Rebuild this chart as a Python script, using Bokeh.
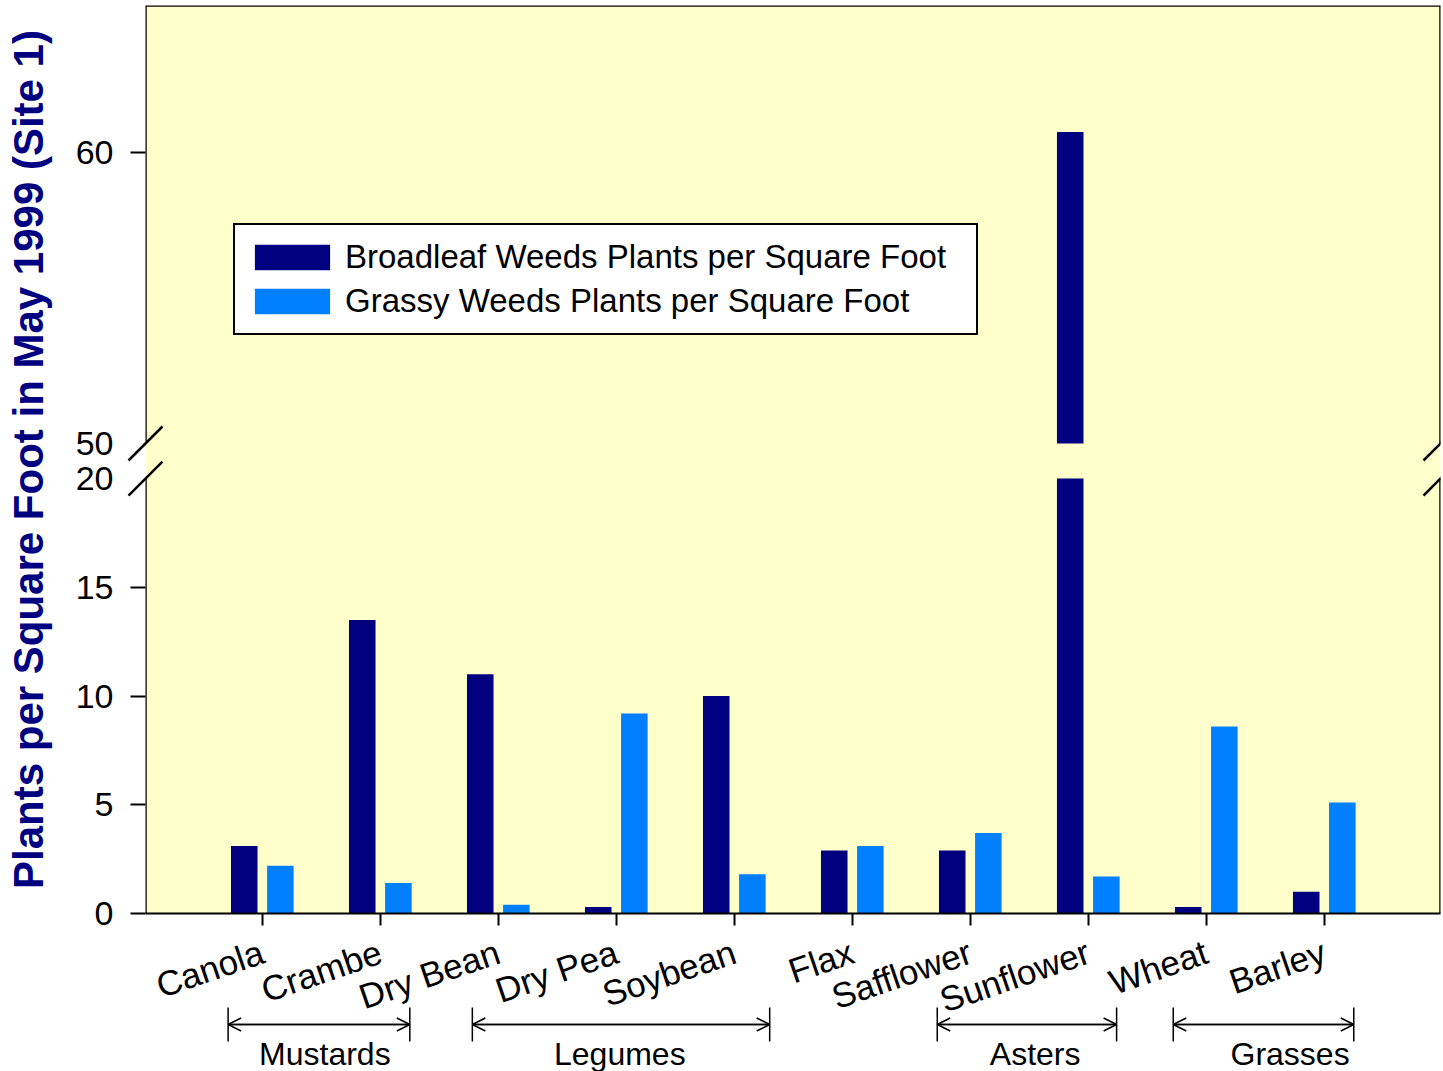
from bokeh.plotting import figure
from bokeh.layouts import column
from bokeh.models import (Range1d, FixedTicker, Legend, LegendItem, Arrow, OpenHead,
                          TeeHead, Label, ColumnDataSource)
from bokeh.transform import dodge
from bokeh.embed import file_html
from bokeh.resources import INLINE

# ---------------- data ----------------
crops = ["Canola", "Crambe", "Dry Bean", "Dry Pea", "Soybean", "Flax",
         "Safflower", "Sunflower", "Wheat", "Barley"]
broadleaf = [3.1, 13.5, 11.0, 0.3, 10.0, 2.9, 2.9, 60.7, 0.3, 1.0]
grassy = [2.2, 1.4, 0.4, 9.2, 1.8, 3.1, 3.7, 1.7, 8.6, 5.1]
lower_ticks = [0, 5, 10, 15, 20]
upper_ticks = [50, 60]
groups = ["Mustards", "Legumes", "Asters", "Grasses"]
# group spans in category-index units
group_start = [-0.29, 1.78, 5.72, 7.72]
group_end = [1.25, 4.30, 7.24, 9.25]
group_label_x = [0.53, 3.03, 6.55, 8.71]

BREAK_LOW = 20
BREAK_HIGH = 50

# ---------------- geometry ----------------
FRAME_W, FRAME_H = 1295, 908
LEFT, RIGHT, TOP = 145, 3, 5
CANVAS_W, CANVAS_H = 1443, 1071
LO = (0.0, 41.75)       # lower segment units over full frame height
HI = (33.85, 65.05)     # upper segment units over full frame height
XR = (-0.99, 9.985)
PXX = FRAME_W / (XR[1] - XR[0])
PXY = FRAME_H / (LO[1] - LO[0])
BOTTOM_ROW = TOP + FRAME_H

def hi_to_lo(u):
    return LO[0] + (u - HI[0]) / (HI[1] - HI[0]) * (LO[1] - LO[0])

FONT = "Liberation Sans"
NAVY = "#000080"
BLUE = "#0080FF"
BG = "#FFFFCC"

xr = Range1d(*XR)
p = figure(frame_width=FRAME_W, frame_height=FRAME_H,
           min_border_left=LEFT, min_border_right=RIGHT, min_border_top=TOP,
           min_border_bottom=0,
           x_range=xr, y_range=Range1d(*LO),
           output_backend="svg", toolbar_location=None, tools="")
p.extra_y_ranges = {"upper": Range1d(*HI)}
p.background_fill_color = BG
p.border_fill_color = "white"
p.outline_line_color = None
p.grid.visible = False

# ---------------- bars ----------------
src = ColumnDataSource(dict(
    idx=list(range(len(crops))),
    broad_low=[min(v, BREAK_LOW) for v in broadleaf],
    grassy=grassy,
))
up_idx = [i for i, v in enumerate(broadleaf) if v > BREAK_HIGH]
src_up = ColumnDataSource(dict(
    idx=up_idx,
    top=[broadleaf[i] for i in up_idx],
    bottom=[BREAK_HIGH] * len(up_idx),
))
W = 0.225
OFF = 0.153
r_b = p.vbar(x=dodge("idx", -OFF, range=xr), top="broad_low", bottom=0,
             width=W, source=src, fill_color=NAVY, line_color=None)
p.vbar(x=dodge("idx", -OFF, range=xr), top="top", bottom="bottom",
       width=W, source=src_up, fill_color=NAVY, line_color=None,
       y_range_name="upper")
r_g = p.vbar(x=dodge("idx", OFF, range=xr), top="grassy", bottom=0,
             width=W, source=src, fill_color=BLUE, line_color=None)

# ---------------- axes ----------------
xa = p.xaxis[0]
xa.ticker = FixedTicker(ticks=list(range(len(crops))))
xa.major_label_overrides = {i: c for i, c in enumerate(crops)}
xa.major_label_orientation = 0.33
xa.major_label_text_font = FONT
xa.major_label_text_font_size = "35px"
xa.major_label_text_color = "black"
xa.major_label_standoff = 25
xa.axis_line_width = 2
xa.axis_line_color = "black"
xa.major_tick_line_width = 2
xa.major_tick_line_color = "black"
xa.major_tick_out = 12
xa.major_tick_in = 0
xa.minor_tick_line_color = None

ya = p.yaxis[0]
t50 = hi_to_lo(upper_ticks[0])
t60 = hi_to_lo(upper_ticks[1])
# labels at every tick; tick marks everywhere except at the two break values
ya.ticker = FixedTicker(ticks=lower_ticks + [t50, t60],
                        minor_ticks=[t for t in lower_ticks if t != BREAK_LOW] + [t60])
ya.major_label_overrides = {t50: str(upper_ticks[0]), t60: str(upper_ticks[1])}
ya.major_label_text_font = FONT
ya.major_label_text_font_size = "34px"
ya.major_label_text_color = "black"
ya.major_label_standoff = 17
ya.axis_line_color = None
ya.major_tick_line_color = None
ya.major_tick_out = 0
ya.major_tick_in = 0
ya.minor_tick_line_color = "black"
ya.minor_tick_line_width = 2
ya.minor_tick_out = 15
ya.minor_tick_in = 0
ya.axis_label = "Plants per Square Foot in May 1999 (Site 1)"
ya.axis_label_text_font = FONT
ya.axis_label_text_font_style = "bold"
ya.axis_label_text_font_size = "42px"
ya.axis_label_text_color = NAVY
ya.axis_label_standoff = 21

# ---------------- frame border with break ----------------
def seg(x0, y0, x1, y1, rng="default", w=2.5):
    p.add_layout(Arrow(end=None, x_start=x0, y_start=y0, x_end=x1, y_end=y1,
                       line_color="black", line_width=w, y_range_name=rng))

for xe in XR:
    seg(xe, LO[0], xe, BREAK_LOW)
    seg(xe, BREAK_HIGH, xe, HI[1], "upper")
seg(XR[0], HI[1], XR[1], HI[1], "upper")

dx = 17 / PXX
dy = 17 / PXY
# right-edge break slashes (inside the main frame)
for yb in (BREAK_LOW, hi_to_lo(BREAK_HIGH)):
    seg(XR[1] - dx, yb - dy, XR[1] + dx, yb + dy)

# ---------------- legend ----------------
legend = Legend(items=[
    LegendItem(label="Broadleaf Weeds Plants per Square Foot", renderers=[r_b]),
    LegendItem(label="Grassy Weeds Plants per Square Foot", renderers=[r_g]),
], location=(88, 578))
legend.label_text_font = FONT
legend.label_text_font_size = "33px"
legend.label_text_color = "black"
legend.glyph_width = 94
legend.glyph_height = 32
legend.label_height = 44
legend.label_width = 621
legend.label_standoff = 6
legend.padding = 10
legend.spacing = 0
legend.margin = 0
legend.border_line_color = "black"
legend.border_line_alpha = 1
legend.border_line_width = 2
legend.background_fill_color = "white"
legend.background_fill_alpha = 1
p.add_layout(legend)

# ---------------- group brackets (strip below the axis labels) ----------------
Q_TOP = 1000
q = figure(frame_width=FRAME_W, frame_height=CANVAS_H - Q_TOP,
           min_border_left=LEFT, min_border_right=RIGHT, min_border_top=0,
           min_border_bottom=0, x_axis_location=None, y_axis_location=None,
           x_range=xr, y_range=Range1d(CANVAS_H, Q_TOP),
           output_backend="svg", toolbar_location=None, tools="")
q.grid.visible = False
q.outline_line_color = None
q.background_fill_alpha = 0
q.border_fill_alpha = 0
q.margin = (-40, 0, 0, 0)

Y_ARROW = 1024
Y_GLABEL = 1053
for g, s, e, lx in zip(groups, group_start, group_end, group_label_x):
    q.add_layout(Arrow(start=OpenHead(size=13, line_width=1.5),
                       end=OpenHead(size=13, line_width=1.5),
                       x_start=s, y_start=Y_ARROW, x_end=e, y_end=Y_ARROW,
                       line_color="black", line_width=1.5))
    q.add_layout(Arrow(start=TeeHead(size=34, line_width=1.5),
                       end=TeeHead(size=34, line_width=1.5),
                       x_start=s, y_start=Y_ARROW, x_end=e, y_end=Y_ARROW,
                       line_color="black", line_width=1.5))
    q.add_layout(Label(x=lx, y=Y_GLABEL, text=g, text_align="center",
                       text_baseline="middle", text_font=FONT,
                       text_font_size="32px", text_color="black"))

# ---------------- transparent overlay for the left axis-break slashes ----------------
# its frame is aligned with the main frame by the column, so shift it left by
# LEFT px to make it cover the axis area too
R_TOP, R_BOT = 410, 510
r = figure(frame_width=CANVAS_W, frame_height=R_BOT - R_TOP,
           min_border_left=0, min_border_right=0, min_border_top=0,
           min_border_bottom=0, x_axis_location=None, y_axis_location=None,
           x_range=Range1d(XR[0] - LEFT / PXX, XR[1] + (CANVAS_W - LEFT - FRAME_W) / PXX),
           y_range=Range1d((BOTTOM_ROW - R_BOT) / PXY, (BOTTOM_ROW - R_TOP) / PXY),
           output_backend="svg", toolbar_location=None, tools="")
r.grid.visible = False
r.outline_line_color = None
r.background_fill_alpha = 0
r.border_fill_alpha = 0
r.margin = (R_TOP - CANVAS_H, 0, 0, -LEFT)

sx0, sy0, sx1, sy1 = [], [], [], []
for yb in (BREAK_LOW, hi_to_lo(BREAK_HIGH)):
    sx0.append(XR[0] - dx); sy0.append(yb - dy)
    sx1.append(XR[0] + dx); sy1.append(yb + dy)
r.segment(x0=sx0, y0=sy0, x1=sx1, y1=sy1, line_color="black", line_width=2.5)

layout = column(p, q, r, spacing=0)
open("out.html", "w").write(file_html(layout, INLINE))
